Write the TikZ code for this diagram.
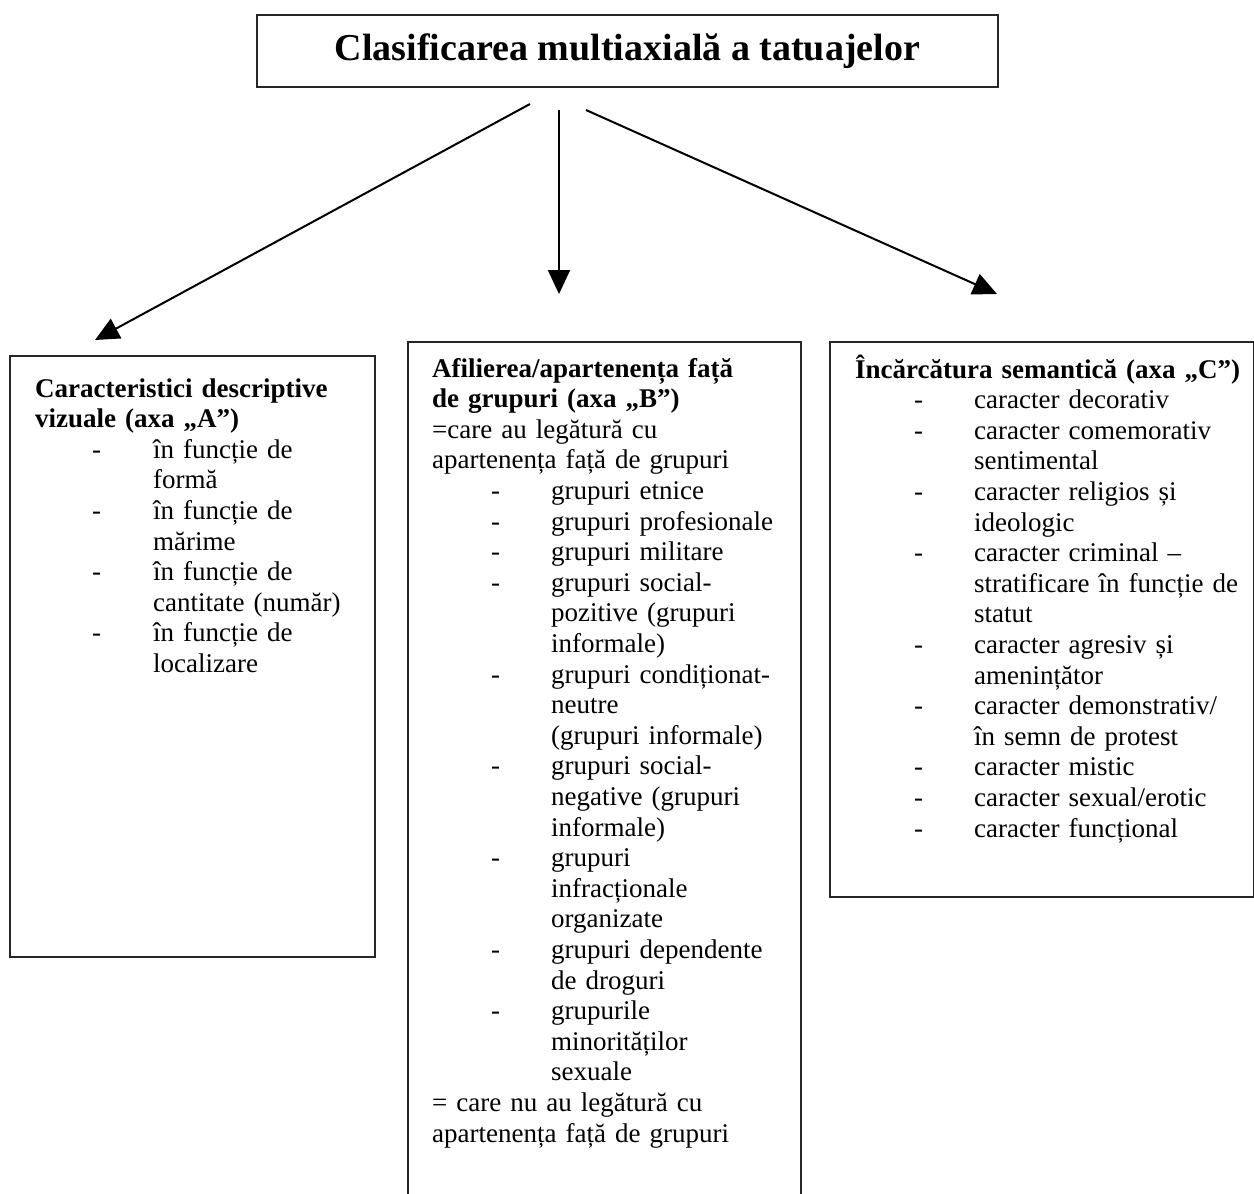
\documentclass[tikz,border=0pt]{standalone}
\usepackage{fontspec}
\setmainfont{Liberation Serif}
\usetikzlibrary{arrows.meta}
\newcommand{\dA}{\hspace*{57pt}\makebox[61pt][l]{-}}
\newcommand{\cA}{\hspace*{118pt}}
\newcommand{\dB}{\hspace*{59pt}\makebox[60pt][l]{-}}
\newcommand{\cB}{\hspace*{119pt}}
\begin{document}
\begin{tikzpicture}[x=1pt,y=-1pt,
  boxstyle/.style={draw=black!85, line width=1.8pt, rectangle, inner sep=0pt, anchor=north west},
  listtext/.style={anchor=base west, inner sep=0pt, text width=#1, align=left,
    font=\fontsize{27}{30.6}\selectfont},
  conn/.style={line width=2pt, -{Triangle[length=24pt,width=22pt]}}]
\useasboundingbox (0,0) rectangle (1254,1194);
\clip (0,0) rectangle (1254,1194);

% title
\node[draw=black!85, line width=1.8pt, minimum width=741pt, minimum height=72pt, inner sep=0pt,
  font=\fontsize{38}{40}\selectfont\bfseries] (title) at (627.5,51) {Clasificarea multiaxială a tatuajelor};

% boxes
\node[boxstyle, minimum width=365pt, minimum height=601pt] (boxA) at (9,355) {};
\node[boxstyle, minimum width=393pt, minimum height=880pt] (boxB) at (407,341) {};
\node[boxstyle, minimum width=424pt, minimum height=555pt] (boxC) at (829,341) {};

% texts
\node[listtext=330pt] (textA) at (35,397) {%
\textbf{Caracteristici descriptive}\\
\textbf{vizuale (axa „A”)}\\
\dA în funcție de\\
\cA formă\\
\dA în funcție de\\
\cA mărime\\
\dA în funcție de\\
\cA cantitate (număr)\\
\dA în funcție de\\
\cA localizare};

\node[listtext=365pt] (textB) at (432,377) {%
\textbf{Afilierea/apartenența față}\\
\textbf{de grupuri (axa „B”)}\\
=care au legătură cu\\
apartenența față de grupuri\\
\dB grupuri etnice\\
\dB grupuri profesionale\\
\dB grupuri militare\\
\dB grupuri social-\\
\cB pozitive (grupuri\\
\cB informale)\\
\dB grupuri condiționat-\\
\cB neutre\\
\cB (grupuri informale)\\
\dB grupuri social-\\
\cB negative (grupuri\\
\cB informale)\\
\dB grupuri\\
\cB infracționale\\
\cB organizate\\
\dB grupuri dependente\\
\cB de droguri\\
\dB grupurile\\
\cB minorităților\\
\cB sexuale\\
= care nu au legătură cu\\
apartenența față de grupuri};

\node[listtext=395pt] (textC) at (855,378) {%
\textbf{Încărcătura semantică (axa „C”)}\\
\dB caracter decorativ\\
\dB caracter comemorativ\\
\cB sentimental\\
\dB caracter religios și\\
\cB ideologic\\
\dB caracter criminal –\\
\cB stratificare în funcție de\\
\cB statut\\
\dB caracter agresiv și\\
\cB amenințător\\
\dB caracter demonstrativ/\\
\cB în semn de protest\\
\dB caracter mistic\\
\dB caracter sexual/erotic\\
\dB caracter funcțional};

% connectors
\coordinate (sA) at (530,104);
\coordinate (sB) at (559,110);
\coordinate (sC) at (586,110);
\coordinate (eA) at (95,340);
\coordinate (eB) at (559,294);
\coordinate (eC) at (997,294);
\draw[conn] (sA) -- (eA);
\draw[conn] (sB) -- (eB);
\draw[conn] (sC) -- (eC);
\end{tikzpicture}
\end{document}
